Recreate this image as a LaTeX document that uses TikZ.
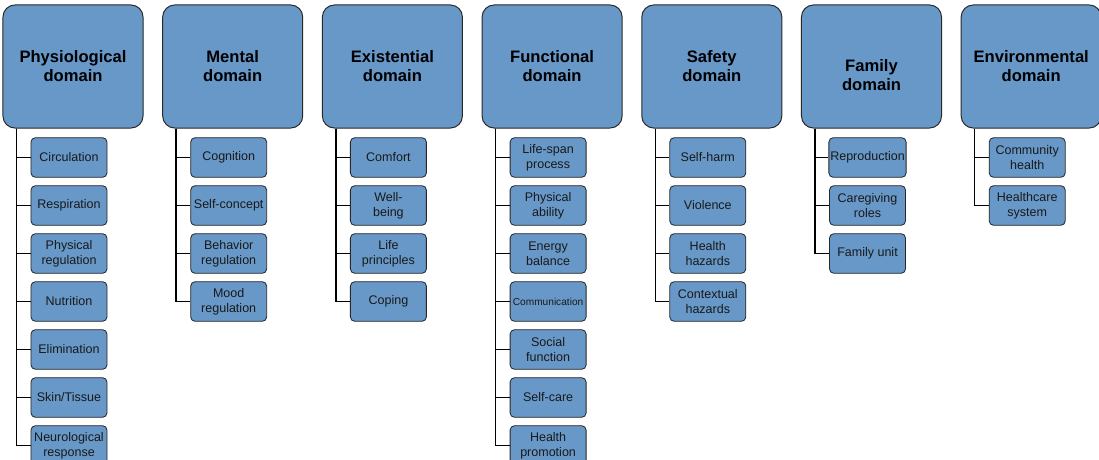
\documentclass[tikz,border=0pt]{standalone}
\usepackage{fontspec}
\setmainfont{Liberation Sans}
\definecolor{azul}{RGB}{103,152,200}
\definecolor{borde}{RGB}{40,40,40}

\begin{document}
\begin{tikzpicture}[x=0.025cm, y=-0.025cm, % 1 unidad = 1 pixel
    dominio/.style={draw=borde, fill=azul, rounded corners=0.3cm, minimum width=3.5cm,
        minimum height=3.075cm, line width=0.7pt, align=center,
        font=\fontsize{11.8}{13.5}\selectfont\bfseries},
    item/.style={draw=borde, fill=azul, rounded corners=0.11cm, minimum width=1.9cm,
        minimum height=0.99cm, inner sep=1pt, line width=0.6pt, align=center,
        text=black!90, font=\fontsize{8.9}{10.7}\selectfont},
    rama/.style={line width=1pt}]
    \useasboundingbox (0,0) rectangle (1099,460); % Marco de la figura
    \clip (0,0) rectangle (1099,460);
    % Dominios
    \node[dominio] (fis) at (73,66.5) {Physiological\\domain};
    \node[dominio] (men) at (232.7,66.5) {Mental\\domain};
    \node[dominio] (exi) at (392.4,66.5) {Existential\\domain};
    \node[dominio] (fun) at (552.1,66.5) {Functional\\domain};
    \node[dominio] (seg) at (711.8,66.5) {Safety\\domain};
    \node[dominio] (fam) at (871.5,66.5) {};
    \node[dominio, draw=none, fill=none] (famtxt) at (871.5,75.5) {Family\\domain};
    \node[dominio] (amb) at (1031.2,66.5) {Environmental\\domain};

    % Fisiologico
    \node[item] (circ) at (69,157.5) {Circulation};
    \node[item] (resp) at (69,205.5) {Respiration};
    \node[item] (preg) at (69,253.5) {Physical\\regulation};
    \node[item] (nutr) at (69,301.5) {Nutrition};
    \node[item] (elim) at (69,349.5) {Elimination};
    \node[item] (piel) at (69,397.5) {Skin/Tissue};
    \node[item] (neur) at (69,445.5) {Neurological\\response};
    \foreach \n in {circ,resp,preg,nutr,elim,piel,neur}
        \draw[rama] (fis.south west) ++(14,0) |- (\n);

    % Mental
    \node[item] (cogn) at (228.7,157.5) {Cognition};
    \node[item] (auto) at (228.7,205.5) {Self-concept};
    \node[item] (creg) at (228.7,253.5) {Behavior\\regulation};
    \node[item] (hreg) at (228.7,301.5) {Mood\\regulation};
    \foreach \n in {cogn,auto,creg,hreg}
        \draw[rama] (men.south west) ++(14,0) |- (\n);

    % Existencial
    \node[item] (conf) at (388.4,157.5) {Comfort};
    \node[item] (bien) at (388.4,205.5) {Well-\\being};
    \node[item] (prin) at (388.4,253.5) {Life\\principles};
    \node[item] (afro) at (388.4,301.5) {Coping};
    \foreach \n in {conf,bien,prin,afro}
        \draw[rama] (exi.south west) ++(14,0) |- (\n);

    % Funcional
    \node[item] (vida) at (548.1,157.5) {Life-span\\process};
    \node[item] (habi) at (548.1,205.5) {Physical\\ability};
    \node[item] (ener) at (548.1,253.5) {Energy\\balance};
    \node[item, font=\fontsize{7.2}{9}\selectfont] (comu) at (548.1,301.5) {Communication};
    \node[item] (soci) at (548.1,349.5) {Social\\function};
    \node[item] (cuid) at (548.1,397.5) {Self-care};
    \node[item] (prom) at (548.1,445.5) {Health\\promotion};
    \foreach \n in {vida,habi,ener,comu,soci,cuid,prom}
        \draw[rama] (fun.south west) ++(14,0) |- (\n);

    % Seguridad
    \node[item] (dano) at (707.8,157.5) {Self-harm};
    \node[item] (viol) at (707.8,205.5) {Violence};
    \node[item] (ries) at (707.8,253.5) {Health\\hazards};
    \node[item] (cont) at (707.8,301.5) {Contextual\\hazards};
    \foreach \n in {dano,viol,ries,cont}
        \draw[rama] (seg.south west) ++(14,0) |- (\n);

    % Familia
    \node[item] (repr) at (867.5,157.5) {Reproduction};
    \node[item] (role) at (867.5,205.5) {Caregiving\\roles};
    \node[item] (unid) at (867.5,253.5) {Family unit};
    \foreach \n in {repr,role,unid}
        \draw[rama] (fam.south west) ++(14,0) |- (\n);

    % Ambiental
    \node[item] (salu) at (1027.2,157.5) {Community\\health};
    \node[item] (sist) at (1027.2,205.5) {Healthcare\\system};
    \foreach \n in {salu,sist}
        \draw[rama] (amb.south west) ++(14,0) |- (\n);
\end{tikzpicture}
\end{document}
